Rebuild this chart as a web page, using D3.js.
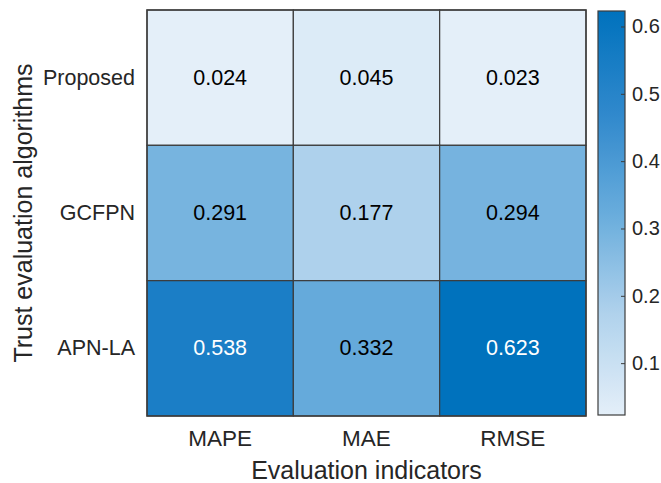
<!DOCTYPE html>
<html>
<head>
<meta charset="utf-8">
<script src="https://cdn.jsdelivr.net/npm/d3@7"></script>
<style>
  html, body { margin: 0; padding: 0; background: #fff; }
  svg { display: block; font-family: "Liberation Sans", Arial, Helvetica, sans-serif; }
</style>
</head>
<body>
<svg id="chart" width="661" height="483"></svg>
<script>
// Error metrics per trust evaluation algorithm
const indicators = ["MAPE", "MAE", "RMSE"];
const algorithms = ["Proposed", "GCFPN", "APN-LA"];
const proposedValues = [0.024, 0.045, 0.023];
const gcfpnValues = [0.291, 0.177, 0.294];
const apnlaValues = [0.538, 0.332, 0.623];
const colorbarTicks = [0.1, 0.2, 0.3, 0.4, 0.5, 0.6];

const rows = [proposedValues, gcfpnValues, apnlaValues];
const cells = [];
rows.forEach((vals, r) => vals.forEach((v, c) => cells.push({ alg: algorithms[r], ind: indicators[c], value: v })));

const allValues = cells.map(d => d.value);
const vmin = d3.min(allValues), vmax = d3.max(allValues);

const svg = d3.select("#chart");
const plot = { left: 147, top: 10, right: 586, bottom: 416 };

const x = d3.scaleBand().domain(indicators).range([plot.left, plot.right]);
const y = d3.scaleBand().domain(algorithms).range([plot.top, plot.bottom]);

// Blue colormap, light to dark
const colormap = d3.piecewise(d3.interpolateRgb, ["#e4eff9", "#b0d2ec", "#68acdc", "#2f88cc", "#0072bd"]);
const color = d3.scaleSequential(colormap).domain([vmin, vmax]);

const textColor = "#262626";
const edge = "#3c3c3c";

// Cells
svg.append("g").selectAll("rect").data(cells).join("rect")
  .attr("x", d => x(d.ind))
  .attr("y", d => y(d.alg))
  .attr("width", x.bandwidth())
  .attr("height", y.bandwidth())
  .attr("fill", d => color(d.value))
  .attr("stroke", edge)
  .attr("stroke-width", 1.2);

// Cell values
svg.append("g").selectAll("text").data(cells).join("text")
  .attr("x", d => x(d.ind) + x.bandwidth() / 2)
  .attr("y", d => y(d.alg) + y.bandwidth() / 2)
  .attr("text-anchor", "middle")
  .attr("dominant-baseline", "central")
  .attr("font-size", 21.5)
  .attr("fill", d => (d.value - vmin) / (vmax - vmin) > 0.75 ? "#ffffff" : "#000000")
  .text(d => d3.format(".3f")(d.value));

// Outer frame
svg.append("rect")
  .attr("x", plot.left).attr("y", plot.top)
  .attr("width", plot.right - plot.left).attr("height", plot.bottom - plot.top)
  .attr("fill", "none").attr("stroke", edge).attr("stroke-width", 1.4);

// Category labels
svg.append("g").selectAll("text").data(indicators).join("text")
  .attr("x", d => x(d) + x.bandwidth() / 2)
  .attr("y", 446)
  .attr("text-anchor", "middle")
  .attr("font-size", 22.5)
  .attr("fill", textColor)
  .text(d => d);

svg.append("g").selectAll("text").data(algorithms).join("text")
  .attr("x", 135)
  .attr("y", d => y(d) + y.bandwidth() / 2)
  .attr("text-anchor", "end")
  .attr("dominant-baseline", "central")
  .attr("font-size", 21.5)
  .attr("fill", textColor)
  .text(d => d);

// Axis titles
svg.append("text")
  .attr("x", (plot.left + plot.right) / 2)
  .attr("y", 479)
  .attr("text-anchor", "middle")
  .attr("font-size", 25)
  .attr("fill", textColor)
  .text("Evaluation indicators");

svg.append("text")
  .attr("transform", `translate(32, ${(plot.top + plot.bottom) / 2}) rotate(-90)`)
  .attr("text-anchor", "middle")
  .attr("font-size", 25)
  .attr("fill", textColor)
  .text("Trust evaluation algorithms");

// Colorbar
const cb = { left: 598, right: 625, top: 11, bottom: 415 };
const cbScale = d3.scaleLinear().domain([vmin, vmax]).range([cb.bottom, cb.top]);

const defs = svg.append("defs");
const grad = defs.append("linearGradient").attr("id", "cbgrad")
  .attr("x1", 0).attr("y1", 1).attr("x2", 0).attr("y2", 0);
d3.range(0, 1.0001, 0.05).forEach(t => {
  grad.append("stop").attr("offset", t).attr("stop-color", colormap(t));
});

svg.append("rect")
  .attr("x", cb.left).attr("y", cb.top)
  .attr("width", cb.right - cb.left).attr("height", cb.bottom - cb.top)
  .attr("fill", "url(#cbgrad)")
  .attr("stroke", edge).attr("stroke-width", 1.2);

const cbAxis = d3.axisRight(cbScale).tickValues(colorbarTicks).tickSize(0).tickPadding(0).tickFormat(d3.format(".1f"));
const cbG = svg.append("g").attr("transform", `translate(${cb.right},0)`).call(cbAxis);
cbG.select(".domain").remove();
cbG.selectAll(".tick line")
  .attr("x1", -4).attr("x2", 0)
  .attr("stroke", edge).attr("stroke-width", 1);
cbG.selectAll(".tick text")
  .attr("x", 7)
  .attr("font-size", 20)
  .attr("font-family", "Liberation Sans, Arial, sans-serif")
  .attr("fill", textColor);
</script>
</body>
</html>
